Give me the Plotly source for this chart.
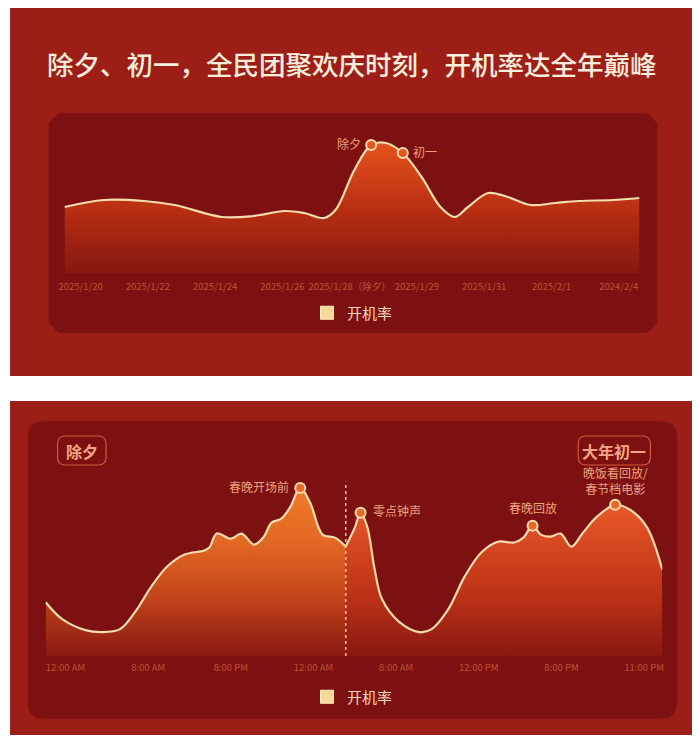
import plotly.graph_objects as go

# ---------------- data ----------------
title_text = "除夕、初一，全民团聚欢庆时刻，开机率达全年巅峰"
series_name = "开机率"

# top chart: daily (position on the date axis, value)
top_ticks = ["2025/1/20", "2025/1/22", "2025/1/24", "2025/1/26", "2025/1/28（除夕）",
             "2025/1/29", "2025/1/31", "2025/2/1", "2024/2/4"]
top_x = [-0.24, 0.35, 0.94, 1.40, 2.10, 2.57, 3.03, 3.32, 3.62, 3.79, 4.07, 4.32, 4.54,
         4.79, 5.07, 5.35, 5.56, 5.76, 6.06, 6.35, 6.69, 7.06, 7.40, 7.91, 8.31]
top_y = [33, 36.5, 36, 34, 28, 28.5, 31, 30, 27.5, 31.5, 51.5, 64, 65,
         60, 48, 33, 28, 33, 40, 38, 34, 35, 36, 36.5, 37.5]
top_marks = {"除夕": 11, "初一": 13}

# bottom chart: hourly, 除夕 segment and 大年初一 segment
bot_ticks = ["12:00 AM", "8:00 AM", "8:00 PM", "12:00 AM", "8:00 AM", "12:00 PM", "8:00 PM", "11:00 PM"]
eve_x = [-0.24, -0.04, 0.24, 0.44, 0.66, 0.84, 1.04, 1.23, 1.44, 1.68, 1.74, 1.83, 2.0,
         2.13, 2.28, 2.40, 2.49, 2.61, 2.72, 2.84, 2.96, 3.11, 3.26, 3.39]
eve_y = [31.8, 21.8, 15.3, 14.1, 15.9, 25.9, 41.2, 52.9, 60, 62.4, 64.1, 72.4, 69.4,
         72.4, 65.9, 70.6, 78.8, 81.2, 88.2, 99.4, 90.6, 71.8, 70, 64.7]
day1_x = [3.39, 3.50, 3.57, 3.65, 3.74, 3.83, 4.04, 4.28, 4.43, 4.63, 4.83, 5.03, 5.23,
          5.43, 5.54, 5.65, 5.75, 5.87, 5.99, 6.12, 6.26, 6.43, 6.65, 6.83, 7.03, 7.22]
day1_y = [64.7, 75.9, 84.7, 76.5, 51.2, 33.5, 20, 14.1, 15.9, 27.6, 47.1, 61.2, 67.6,
          67.1, 70, 77.1, 71.8, 70.6, 72.4, 64.7, 72.9, 82.4, 89.4, 86.5, 76.5, 51.2]
eve_marks = {"春晚开场前": 19}
day1_marks = {"零点钟声": 2, "春晚回放": 15, "晚饭看回放/<br>春节档电影": 22}
divider_x = 3.39
panel_tags = ["除夕", "大年初一"]

# ---------------- styling ----------------
OFF = 8                       # page body margin
W, H = 700 - 2 * OFF, 743 - 2 * OFF
FONT = "Noto Sans CJK SC"
OUTER = "#9d1e16"
INNER = "#7d1111"
LINE = "#f7dcae"
LABEL = "#eda27f"
TICK = "#be5236"
CREAM = "#fbeedd"


def px(x):
    return (x - OFF) / W


def py(y):
    return 1 - (y - OFF) / H


def rect_path(x0, y0, x1, y1, r, chamfer=False):
    if chamfer:
        seq = [(x0 + r, y0), (x1 - r, y0), (x1, y0 + r), (x1, y1 - r), (x1 - r, y1),
               (x0 + r, y1), (x0, y1 - r), (x0, y0 + r)]
        s = "M %f,%f " % (px(seq[0][0]), py(seq[0][1]))
        s += " ".join("L %f,%f" % (px(a), py(b)) for a, b in seq[1:])
        return s + " Z"
    s = "M %f,%f " % (px(x0 + r), py(y0))
    s += "L %f,%f " % (px(x1 - r), py(y0))
    s += "Q %f,%f %f,%f " % (px(x1), py(y0), px(x1), py(y0 + r))
    s += "L %f,%f " % (px(x1), py(y1 - r))
    s += "Q %f,%f %f,%f " % (px(x1), py(y1), px(x1 - r), py(y1))
    s += "L %f,%f " % (px(x0 + r), py(y1))
    s += "Q %f,%f %f,%f " % (px(x0), py(y1), px(x0), py(y1 - r))
    s += "L %f,%f " % (px(x0), py(y0 + r))
    s += "Q %f,%f %f,%f Z" % (px(x0), py(y0), px(x0 + r), py(y0))
    return s


fig = go.Figure()

# top area
fig.add_trace(go.Scatter(
    x=top_x, y=top_y, mode="lines", line=dict(color=LINE, width=2.2, shape="spline", smoothing=1.0),
    fill="tozeroy",
    fillgradient=dict(type="vertical", start=0, stop=max(top_y),
                      colorscale=[[0, "#861711"], [0.45, "#b42c12"], [1, "#e6521c"]]),
    showlegend=False, hoverinfo="skip", xaxis="x", yaxis="y"))
fig.add_trace(go.Scatter(
    x=[top_x[i] for i in top_marks.values()], y=[top_y[i] for i in top_marks.values()],
    mode="markers", marker=dict(size=10, color="#e4561f", line=dict(color=LINE, width=2)),
    showlegend=False, hoverinfo="skip", xaxis="x", yaxis="y"))

# bottom areas
fig.add_trace(go.Scatter(
    x=eve_x, y=eve_y, mode="lines", line=dict(color=LINE, width=2.2, shape="spline", smoothing=1.0),
    fill="tozeroy",
    fillgradient=dict(type="vertical", start=0, stop=max(eve_y),
                      colorscale=[[0, "#8a1812"], [0.35, "#c2441a"], [0.7, "#e56a24"], [1, "#ee7a2a"]]),
    showlegend=False, hoverinfo="skip", xaxis="x2", yaxis="y2"))
fig.add_trace(go.Scatter(
    x=day1_x, y=day1_y, mode="lines", line=dict(color=LINE, width=2.2, shape="spline", smoothing=1.0),
    fill="tozeroy",
    fillgradient=dict(type="vertical", start=0, stop=max(day1_y),
                      colorscale=[[0, "#8a1812"], [0.4, "#bd3216"], [1, "#e8582a"]]),
    showlegend=False, hoverinfo="skip", xaxis="x2", yaxis="y2"))
fig.add_trace(go.Scatter(
    x=[eve_x[i] for i in eve_marks.values()] + [day1_x[i] for i in day1_marks.values()],
    y=[eve_y[i] for i in eve_marks.values()] + [day1_y[i] for i in day1_marks.values()],
    mode="markers", marker=dict(size=10, color="#e8692a", line=dict(color=LINE, width=2)),
    showlegend=False, hoverinfo="skip", xaxis="x2", yaxis="y2"))

# legend entries
for lg, xa, ya in (("legend", "x", "y"), ("legend2", "x2", "y2")):
    fig.add_trace(go.Scatter(x=[None], y=[None], mode="markers", name=series_name,
                             marker=dict(symbol="square", size=13, color="#f6d898",
                                         line=dict(color="#fff0c8", width=1)),
                             legend=lg, xaxis=xa, yaxis=ya))

# panels
shapes = [
    dict(type="rect", xref="paper", yref="paper", x0=px(4), x1=px(696), y0=py(376), y1=py(8),
         fillcolor=OUTER, line=dict(width=0), layer="below"),
    dict(type="path", xref="paper", yref="paper", path=rect_path(43, 113, 658, 333, 10, chamfer=True),
         fillcolor=INNER, line=dict(color="#8d1a14", width=1), layer="below"),
    dict(type="rect", xref="paper", yref="paper", x0=px(4), x1=px(696), y0=py(735), y1=py(401),
         fillcolor=OUTER, line=dict(width=0), layer="below"),
    dict(type="path", xref="paper", yref="paper", path=rect_path(22, 421, 678, 719, 16),
         fillcolor=INNER, line=dict(color="#8d1a14", width=1), layer="below"),
    # tag boxes
    dict(type="path", xref="paper", yref="paper", path=rect_path(52, 436, 101, 465, 8),
         fillcolor="rgba(0,0,0,0)", line=dict(color="#cf5a3c", width=1.2)),
    dict(type="path", xref="paper", yref="paper", path=rect_path(578, 436, 651, 465, 8),
         fillcolor="rgba(0,0,0,0)", line=dict(color="#cf5a3c", width=1.2)),
    # divider
    dict(type="line", xref="x2", yref="y2", x0=divider_x, x1=divider_x, y0=0, y1=103,
         line=dict(color="#f3c9a6", width=1.5, dash="dot")),
]

annotations = [
    dict(text=title_text, xref="paper", yref="paper", x=px(349), y=py(63), showarrow=False,
         font=dict(family=FONT, size=26.5, color=CREAM, weight=500), xanchor="center", yanchor="middle"),
    dict(text=panel_tags[0], xref="paper", yref="paper", x=px(76.5), y=py(450.5), showarrow=False,
         font=dict(family=FONT, size=16, color="#f4a383", weight=600), xanchor="center", yanchor="middle"),
    dict(text=panel_tags[1], xref="paper", yref="paper", x=px(614.5), y=py(450.5), showarrow=False,
         font=dict(family=FONT, size=16, color="#f4a383", weight=600), xanchor="center", yanchor="middle"),
]
for name, i in top_marks.items():
    left = name == "除夕"
    annotations.append(dict(text=name, x=top_x[i], y=top_y[i], xref="x", yref="y", showarrow=False,
                            xanchor="right" if left else "left", yanchor="middle",
                            xshift=-8 if left else 8, yshift=1,
                            font=dict(family=FONT, size=12, color=LABEL)))
for name, i in eve_marks.items():
    annotations.append(dict(text=name, x=eve_x[i], y=eve_y[i], xref="x2", yref="y2", showarrow=False,
                            xanchor="right", yanchor="middle", xshift=-9, yshift=1,
                            font=dict(family=FONT, size=12, color=LABEL)))
for name, i in day1_marks.items():
    if name == "零点钟声":
        a = dict(xanchor="left", yanchor="middle", xshift=10, yshift=2)
    elif name == "春晚回放":
        a = dict(xanchor="center", yanchor="bottom", xshift=0, yshift=8)
    else:
        a = dict(xanchor="center", yanchor="bottom", xshift=0, yshift=6)
    annotations.append(dict(text=name, x=day1_x[i], y=day1_y[i], xref="x2", yref="y2", showarrow=False,
                            font=dict(family=FONT, size=12, color=LABEL), **a))

axis_common = dict(showgrid=False, zeroline=False, showline=False, ticks="", tickangle=0,
                   tickfont=dict(family=FONT, size=9.5, color=TICK))

fig.update_layout(
    width=W, height=H, margin=dict(l=0, r=0, t=0, b=0),
    paper_bgcolor="white", plot_bgcolor="rgba(0,0,0,0)",
    font=dict(family=FONT),
    xaxis=dict(domain=[px(59), px(640)], range=[-0.24, 8.31], anchor="y",
               tickmode="array", tickvals=list(range(len(top_ticks))), ticktext=top_ticks,
               ticklabelstandoff=6, **axis_common),
    yaxis=dict(domain=[py(273), py(130)], range=[0, 71.5], anchor="x", showticklabels=False,
               showgrid=False, zeroline=False, showline=False, ticks=""),
    xaxis2=dict(domain=[px(40), px(663)], range=[-0.24, 7.22], anchor="y2",
                tickmode="array", tickvals=list(range(len(bot_ticks))), ticktext=bot_ticks,
                ticklabelstandoff=4, **axis_common),
    yaxis2=dict(domain=[py(656), py(470)], range=[0, 110], anchor="x2", showticklabels=False,
                showgrid=False, zeroline=False, showline=False, ticks=""),
    legend=dict(x=px(350), y=py(313), xanchor="center", yanchor="middle", orientation="h",
                bgcolor="rgba(0,0,0,0)", font=dict(family=FONT, size=15, color="#f3d6bc")),
    legend2=dict(x=px(350), y=py(697), xanchor="center", yanchor="middle", orientation="h",
                 bgcolor="rgba(0,0,0,0)", font=dict(family=FONT, size=15, color="#f3d6bc")),
    shapes=shapes, annotations=annotations, showlegend=True,
)

fig.write_html("out.html")
